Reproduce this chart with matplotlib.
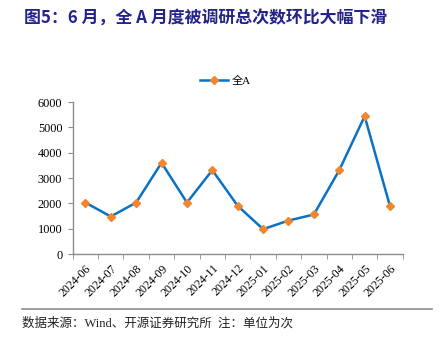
import matplotlib
matplotlib.use('Agg')
import matplotlib.pyplot as plt
from matplotlib.lines import Line2D

months = ['2024-06', '2024-07', '2024-08', '2024-09', '2024-10', '2024-11', '2024-12',
          '2025-01', '2025-02', '2025-03', '2025-04', '2025-05', '2025-06']
visits = [2030, 1480, 2030, 3600, 2030, 3310, 1900, 980, 1320, 1560, 3310, 5440, 1880]
yticks = [0, 1000, 2000, 3000, 4000, 5000, 6000]

cjk = ['Noto Sans CJK SC', 'DejaVu Sans']
serif = ['Liberation Serif', 'Noto Sans CJK SC']
gray = '#8c8c8c'

fig = plt.figure(figsize=(4.46, 3.38), dpi=100)
fig.patch.set_facecolor('white')

fig.text(0.054, 0.945, '图5：6 月，全 A 月度被调研总次数环比大幅下滑', family=cjk,
         fontsize=12.2, fontweight='bold', color='#23238a', va='center', ha='left')

ax = fig.add_axes([0.163, 0.2485, 0.74, 0.4497])
x = list(range(len(months)))
ax.plot(x, visits, color='#0a72c4', lw=1.8, marker='D', ms=4.5,
        mfc='#f0862d', mec='#f0862d', zorder=3)

ax.set_xlim(-0.5, len(months) - 0.5)
ax.set_ylim(0, 6000)
ax.set_yticks(yticks)
ax.set_yticklabels([str(v) for v in yticks], family=serif, fontsize=8.8)
ax.set_xticks(x)
ax.set_xticklabels(months, rotation=45, ha='right', rotation_mode='anchor',
                   family=serif, fontsize=8.5)
ax.set_xticks([i - 0.5 for i in range(len(months) + 1)], minor=True)
ax.tick_params(axis='x', which='major', length=0, pad=6)
ax.tick_params(axis='x', which='minor', length=3.5, color=gray, direction='out')
ax.tick_params(axis='y', length=3.5, color=gray, direction='out', pad=4)
for side in ['top', 'right']:
    ax.spines[side].set_visible(False)
for side in ['left', 'bottom']:
    ax.spines[side].set_color(gray)
    ax.spines[side].set_linewidth(1.0)

handle = Line2D([], [], color='#0a72c4', lw=1.8, marker='D', ms=4,
                mfc='#f0862d', mec='#f0862d')
fig.legend([handle], ['全A'], loc='center', bbox_to_anchor=(0.505, 0.762),
           frameon=False, prop={'family': serif, 'size': 8}, handlelength=2.6,
           handletextpad=0.3)

fig.add_artist(Line2D([0.049, 0.969], [0.086, 0.086], transform=fig.transFigure,
                      color=gray, lw=1.2))
fig.text(0.049, 0.044, '数据来源：Wind、开源证券研究所  注：单位为次', family=serif,
         fontsize=9, color='#222222', va='center', ha='left')

fig.savefig('out.png', dpi=100)
